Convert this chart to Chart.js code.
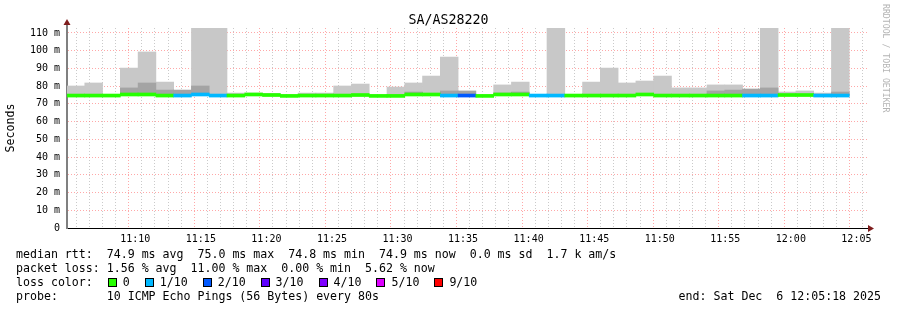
<!DOCTYPE html>
<html><head><meta charset="utf-8">
<script src="https://cdn.jsdelivr.net/npm/chart.js@4.4.1/dist/chart.umd.min.js"></script>
<style>
html,body{margin:0;padding:0;background:#fff;}
#wrap{position:relative;width:897px;height:310px;overflow:hidden;font-family:'DejaVu Sans Mono',monospace;color:#000;}
#c{position:absolute;left:0;top:0;}
.title{position:absolute;left:0;top:12px;width:897px;text-align:center;font-size:13.3px;line-height:16px;}
.side{position:absolute;left:881px;top:4px;writing-mode:vertical-rl;font-size:8.2px;line-height:9px;color:#b4b4b4;}
.foot{position:absolute;left:16px;top:247px;font-size:11.6px;line-height:14px;white-space:pre;}
.sq{display:inline-block;width:7px;height:7px;border:1px solid #000;margin:0 6px 0 15px;vertical-align:-1px;}
.end{position:absolute;right:16px;top:289px;font-size:11.6px;line-height:14px;white-space:pre;}
</style></head>
<body>
<div id="wrap">
<canvas id="c" width="897" height="310"></canvas>
<div class="title" id="title"></div>
<div class="side">RRDTOOL / TOBI OETIKER</div>
<div class="foot" id="foot"></div>
<div class="end" id="end"></div>
</div>
<script>
// ---------- data ----------
const chartTitle = 'SA/AS28220';
// start time of each 80 s slot
const slotLabels = ['11:05:18','11:06:38','11:07:58','11:09:18','11:10:38','11:11:58','11:13:18','11:14:38','11:15:58',
 '11:17:18','11:18:38','11:19:58','11:21:18','11:22:38','11:23:58','11:25:18','11:26:38','11:27:58','11:29:18',
 '11:30:38','11:31:58','11:33:18','11:34:38','11:35:58','11:37:18','11:38:38','11:39:58','11:41:18','11:42:38',
 '11:43:58','11:45:18','11:46:38','11:47:58','11:49:18','11:50:38','11:51:58','11:53:18','11:54:38','11:55:58',
 '11:57:18','11:58:38','11:59:58','12:01:18','12:02:38','12:03:58'];
// median rtt (ms)
const medianMs = [74.7,74.7,74.7,75.3,75.3,74.7,74.7,75.3,74.7,74.7,75.3,75.0,74.5,74.7,74.7,74.7,75.0,74.5,74.5,
 75.3,75.3,74.7,74.7,74.5,75.3,75.3,74.7,74.7,74.7,74.7,74.7,74.7,75.3,74.7,74.7,74.7,74.7,74.7,74.7,74.7,
 75.0,75.0,74.7,74.7,null];
// outer smoke (max ping, ms)
const smokeMaxMs = [80.1,81.8,null,90.2,99.3,82.3,null,112.8,112.8,76.1,76.1,75.9,null,76.1,76.1,80.1,81.2,null,79.5,
 81.8,85.7,96.4,null,null,80.7,82.3,null,112.8,null,82.3,90.2,81.8,82.9,85.7,79.0,79.0,80.7,80.7,null,112.8,
 76.7,77.3,76.1,112.8,null];
// inner smoke (ms)
const smokeMidMs = [null,null,null,79.0,81.8,77.8,77.8,80.1,null,null,null,null,null,null,null,null,null,null,null,
 76.7,null,77.3,77.3,null,76.1,76.7,null,null,null,null,null,null,null,null,null,null,77.3,77.8,78.4,79.0,
 null,null,null,76.7,null];
// lost pings out of 10
const lossTenths = [0,0,0,0,0,0,1,1,1,0,0,0,0,0,0,0,0,0,0,0,0,1,2,0,0,0,1,1,0,0,0,0,0,0,0,0,0,0,1,1,0,0,1,1,null];
const lossLegend = ['0','1/10','2/10','3/10','4/10','5/10','9/10'];
const lossColors = ['#26ff00','#00b8ff','#0059ff','#5e00ff','#7e00ff','#dd00ff','#ff0000'];
const timeStart = '11:05:18';
const timeEnd = '12:05:18';
const yMaxMs = 112.8;
const statsLines = [
 'median rtt:  74.9 ms avg  75.0 ms max  74.8 ms min  74.9 ms now  0.0 ms sd  1.7 k am/s',
 'packet loss: 1.56 % avg  11.00 % max  0.00 % min  5.62 % now'];
const probeLine = 'probe:       10 ICMP Echo Pings (56 Bytes) every 80s';
const endLine = 'end: Sat Dec  6 12:05:18 2025';

// ---------- text ----------
document.getElementById('title').textContent = chartTitle;
let fh = statsLines.join('\n') + '\nloss color:';
lossLegend.forEach((l,i)=>{ fh += '<span class="sq" style="background:'+lossColors[i]+'"></span>'+l; });
fh += '\n' + probeLine;
document.getElementById('foot').innerHTML = fh;
document.getElementById('end').textContent = endLine;

// ---------- chart ----------
const FONT = 'DejaVu Sans Mono';
const MED_HALF = 0.85; // half line thickness in ms (style)
const toSec = s => { const p = s.split(':').map(Number); return p[0]*3600 + p[1]*60 + (p[2]||0); };
function lossIdx(t){ if(t==null) return 0; if(t<=4) return t; if(t<=8) return 5; return 6; }
const medianBars = medianMs.map(m => m==null ? null : [m-MED_HALF, m+MED_HALF]);
const outerBars = smokeMaxMs.map((v,i) => v==null ? null : [medianMs[i], v]);
const innerBars = smokeMidMs.map((v,i) => v==null ? null : [medianMs[i], v]);
const medColors = lossTenths.map(t => lossColors[lossIdx(t)]);
function hhmm(s){ const h=Math.floor(s/3600), m=Math.floor((s%3600)/60); return String(h).padStart(2,'0')+':'+String(m).padStart(2,'0'); }
const MAJOR = 'rgba(255,110,110,0.6)', MINOR = 'rgba(180,180,180,0.7)';

const arrows = {
  id:'arrows',
  afterDraw(chart){
    const {ctx, chartArea:a} = chart;
    ctx.save();
    ctx.strokeStyle = '#808080'; ctx.lineWidth = 2;
    ctx.beginPath(); ctx.moveTo(a.left, a.top); ctx.lineTo(a.left, a.top-4); ctx.stroke();
    ctx.strokeStyle = '#000'; ctx.lineWidth = 1;
    ctx.beginPath(); ctx.moveTo(a.right, a.bottom+0.5); ctx.lineTo(a.right+3, a.bottom+0.5); ctx.stroke();
    ctx.fillStyle = '#7f1d1d';
    ctx.beginPath(); ctx.moveTo(a.left-3.5, a.top-3); ctx.lineTo(a.left+3.5, a.top-3); ctx.lineTo(a.left, a.top-9); ctx.closePath(); ctx.fill();
    ctx.beginPath(); ctx.moveTo(a.right+1, a.bottom-3); ctx.lineTo(a.right+1, a.bottom+4); ctx.lineTo(a.right+7, a.bottom+0.5); ctx.closePath(); ctx.fill();
    ctx.restore();
  }
};

const barStyle = {grouped:false, barPercentage:1, categoryPercentage:1, borderWidth:0};
new Chart(document.getElementById('c'), {
  type:'bar',
  data:{
    labels: slotLabels,
    datasets:[
      Object.assign({data: medianBars, backgroundColor: medColors, order:0}, barStyle),
      Object.assign({data: innerBars, backgroundColor:'#a4a4a4', order:1}, barStyle),
      Object.assign({data: outerBars, backgroundColor:'#c8c8c8', order:2}, barStyle)
    ]
  },
  options:{
    responsive:false, animation:false,
    layout:{padding:{left:0,right:30,top:28,bottom:0}},
    plugins:{legend:{display:false}, tooltip:{enabled:false}, title:{display:false}},
    scales:{
      x:{type:'category', display:false},
      xt:{type:'linear', position:'bottom', min:toSec(timeStart), max:toSec(timeEnd),
        afterFit(s){ s.height = 82; },
        afterBuildTicks(s){ const t=[]; for(let v=Math.ceil(s.min/60)*60; v<=s.max; v+=60) t.push({value:v}); s.ticks=t; },
        ticks:{autoSkip:false, maxRotation:0, minRotation:0, padding:5,
          color:'#000', font:{family:FONT, size:10},
          callback:(v)=> (v%300===0 ? hhmm(v) : '')},
        grid:{drawTicks:false, lineWidth:1,
          color:(c)=> (c.tick && c.tick.value%300===0) ? MAJOR : MINOR},
        border:{display:true, color:'#000', width:1, dash:[1,2]}
      },
      y:{type:'linear', min:0, max:yMaxMs,
        afterFit(s){ s.width = 67; },
        ticks:{stepSize:5, includeBounds:false, padding:7, color:'#000', font:{family:FONT, size:10},
          callback:(v)=> v===0 ? '0' : (v%10===0 ? v+' m' : '')},
        grid:{drawTicks:false, lineWidth:1,
          color:(c)=> (c.tick && c.tick.value===0) ? 'rgba(0,0,0,0)' : ((c.tick && c.tick.value%10===0) ? MAJOR : MINOR)},
        border:{display:true, color:'#808080', width:2, dash:[1,2]},
        title:{display:true, text:'Seconds', color:'#000', font:{family:FONT, size:11.6}, padding:{top:4,bottom:0}}
      }
    }
  },
  plugins:[arrows]
});
</script>
</body></html>
